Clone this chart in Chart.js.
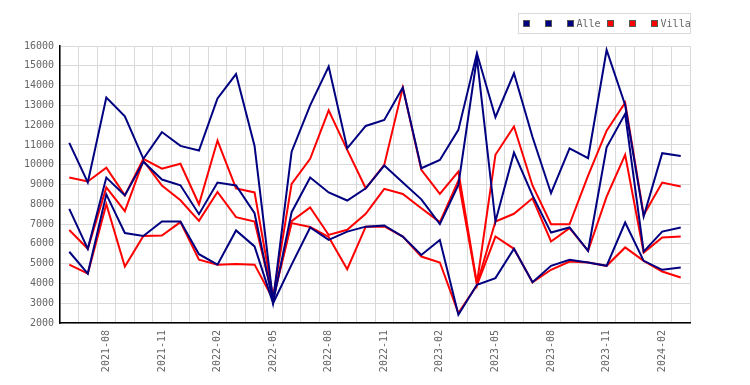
<!DOCTYPE html>
<html><head><meta charset="utf-8">
<script src="https://cdn.jsdelivr.net/npm/chart.js@4.4.1/dist/chart.umd.min.js"></script>
<style>html,body{margin:0;padding:0;background:#fff}</style>
</head><body>
<canvas id="c" width="750" height="385"></canvas>
<script>
const months = ['2021-06','2021-07','2021-08','2021-09','2021-10','2021-11','2021-12',
  '2022-01','2022-02','2022-03','2022-04','2022-05','2022-06','2022-07','2022-08','2022-09','2022-10','2022-11','2022-12',
  '2023-01','2023-02','2023-03','2023-04','2023-05','2023-06','2023-07','2023-08','2023-09','2023-10','2023-11','2023-12',
  '2024-01','2024-02','2024-03'];
const alleHigh = [11100,9100,13400,12450,10300,11650,10950,10720,13350,14580,10950,3100,10660,13000,14960,10830,11960,12260,13900,9820,10240,11760,15630,12400,14620,11400,8560,10830,10330,15800,13020,7380,10580,10440];
const alleMid  = [7770,5750,9350,8450,10150,9250,8960,7500,9100,8950,7550,3050,7600,9350,8600,8190,8810,9960,9100,8250,7000,8980,15400,7130,10610,8450,6570,6830,5650,10880,12570,5610,6620,6830];
const alleLow  = [5600,4500,8500,6550,6400,7130,7130,5480,4950,6680,5870,3000,4950,6830,6200,6620,6870,6930,6370,5440,6200,2420,3930,4270,5750,4060,4890,5190,5060,4890,7080,5140,4690,4800];
const villaHigh = [9350,9150,9850,8450,10300,9800,10050,8000,11220,8800,8600,3300,9030,10300,12750,10750,8810,9990,13900,9740,8530,9650,4000,10500,11930,8950,6990,6990,9450,11720,13140,7460,9100,8900];
const villaMid  = [6700,5750,8850,7650,10200,8950,8200,7160,8620,7350,7130,3250,7150,7840,6450,6710,7520,8780,8520,7800,7100,9200,3950,7130,7520,8300,6120,6790,5650,8390,10500,5560,6320,6370];
const villaLow  = [4950,4500,8000,4850,6400,6420,7100,5200,4950,4980,4950,3200,7050,6850,6350,4720,6870,6880,6370,5360,5060,2500,3900,6370,5750,4060,4690,5110,5060,4890,5820,5140,4600,4300];
const legendLabels = ['', '', 'Alle', '', '', 'Villa'];
const yTickMin = 2000, yTickMax = 16000, yTickStep = 1000;

const NAVY = '#000080', RED = '#ff0000';
const FONT = '"DejaVu Sans Mono", monospace';
const GRID = '#d9d9d9';

const seriesList = [
  {data: alleHigh, color: NAVY},
  {data: alleMid, color: NAVY},
  {data: alleLow, color: NAVY},
  {data: villaHigh, color: RED},
  {data: villaMid, color: RED},
  {data: villaLow, color: RED}
];

const boxLegend = {
  id: 'boxLegend',
  afterDraw(chart) {
    const ctx = chart.ctx;
    ctx.save();
    ctx.font = '10px ' + FONT;
    const box = 7, gapText = 3, emptyAdv = 22, afterText = 6, padL = 4, padR = 0;
    let total = padL;
    const items = chart.data.datasets.map((ds, i) => ({color: ds.borderColor, text: legendLabels[i]}));
    items.forEach((it, i) => {
      it.tw = it.text ? ctx.measureText(it.text).width : 0;
      const last = i === items.length - 1;
      if (!it.text) total += last ? box : emptyAdv;
      else total += box + gapText + it.tw + (last ? 0 : afterText);
    });
    total += padR;
    const right = Math.round(chart.chartArea.right) + 0.5;
    const left = Math.round(right - total) + 0.5;
    const top = 13.5, bottom = 33.5;
    ctx.strokeStyle = GRID; ctx.lineWidth = 1;
    ctx.strokeRect(left, top, right - left, bottom - top);
    let x = left + padL;
    const by = 20;
    items.forEach((it, i) => {
      const bx = Math.round(x);
      ctx.fillStyle = it.color;
      ctx.fillRect(bx, by, box, box);
      ctx.strokeStyle = '#555';
      ctx.strokeRect(bx + 0.5, by + 0.5, box - 1, box - 1);
      if (it.text) {
        ctx.fillStyle = '#666';
        ctx.textBaseline = 'middle';
        ctx.textAlign = 'left';
        ctx.fillText(it.text, x + box + gapText, by + box / 2 + 0.5);
        x += box + gapText + it.tw + afterText;
      } else {
        x += emptyAdv;
      }
    });
    ctx.restore();
  }
};

new Chart(document.getElementById('c'), {
  type: 'line',
  data: {
    labels: months,
    datasets: seriesList.map((s, i) => ({
      label: legendLabels[i],
      data: s.data,
      borderColor: s.color,
      backgroundColor: s.color,
      borderWidth: 2,
      pointRadius: 0,
      tension: 0,
      fill: false
    }))
  },
  options: {
    responsive: false,
    animation: false,
    layout: {padding: {top: 46, right: 60, bottom: 0, left: 0}},
    plugins: {legend: {display: false}, tooltip: {enabled: false}},
    scales: {
      x: {
        offset: true,
        grid: {offset: true, color: GRID, drawTicks: false},
        border: {color: '#000', width: 1.5},
        ticks: {
          autoSkip: false, maxRotation: 90, minRotation: 90, padding: 7,
          color: '#666', font: {family: FONT, size: 10},
          callback(v, i) { return (i % 3 === 2) ? months[i] : ''; }
        },
        afterFit(s) { s.height = 62; }
      },
      y: {
        min: yTickMin, max: yTickMax,
        grid: {color: GRID, drawTicks: false},
        border: {color: '#000', width: 1.5},
        ticks: {stepSize: yTickStep, padding: 6, color: '#666', font: {family: FONT, size: 10},
          callback(v) { return String(v); }},
        afterFit(s) { s.width = 60; }
      }
    }
  },
  plugins: [boxLegend]
});
</script>
</body></html>
